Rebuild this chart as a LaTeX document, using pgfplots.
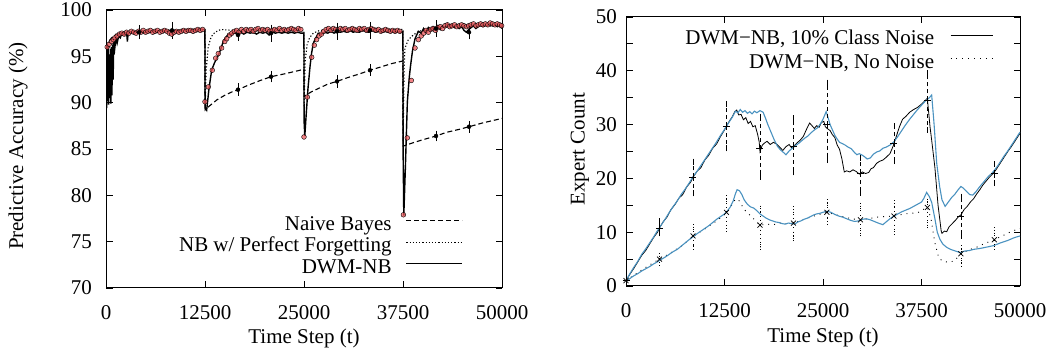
\documentclass[border=0pt]{standalone}
\usepackage{fontspec}
\setmainfont{Liberation Serif}
\usepackage{pgfplots}
\pgfplotsset{compat=1.18}
\definecolor{redd}{RGB}{236,88,92}
\definecolor{bluel}{RGB}{74,146,192}
\begin{document}
\fontsize{21}{25}\selectfont
\begin{tikzpicture}
\useasboundingbox (0pt,0pt) rectangle (1056pt,358pt);
\pgfplotsset{
  common/.style={
    scale only axis, anchor=south west,
    xmin=0, xmax=50000, scaled x ticks=false, scaled y ticks=false,
    xtick={0,12500,25000,37500,50000},
    xticklabels={0,12500,25000,37500,50000},
    tick align=inside, major tick length=6.5pt,
    every tick/.style={black, line width=0.8pt},
    axis line style={line width=1pt},
    font=\fontsize{21}{25}\selectfont,
    xticklabel style={yshift=-10pt},
    legend plot pos=right, legend cell align=right,
  }
}
% ---------------- Left plot ----------------
\begin{axis}[common,
  at={(106pt,70pt)}, width=396pt, height=278pt,
  ymin=70, ymax=100,
  ytick={70,75,...,100}, yticklabels={70,75,80,85,90,95,100},
  yticklabel style={xshift=-7pt},
  xlabel={Time Step (t)}, ylabel={Predictive Accuracy (\%)},
  xlabel style={at={(axis description cs:0.5,-0.18)}, anchor=center},
  ylabel style={at={(axis description cs:-0.222,0.51)}, anchor=center},
  legend image code/.code={\draw[#1] (0pt,5pt) -- (56pt,5pt);},
  legend style={draw=none, fill=none, at={(axis cs:45076,71.1)}, anchor=south east,
    inner sep=0pt, outer sep=0pt, row sep=3pt,
    nodes={inner sep=0pt, text height=14pt, text depth=4.5pt},
    /tikz/every odd column/.append style={column sep=14pt}},
]
% Naive Bayes
\addplot[black, line width=1.1pt, dash pattern=on 5pt off 3pt] coordinates {
(0,95.8)(300,96.5)(700,97.0)(1200,97.3)(2000,97.5)(3000,97.6)(5000,97.7)(8000,97.8)(12490,97.9)
(12510,89.2)(13000,89.6)(14000,90.3)(15000,90.8)(16000,91.2)(16667,91.4)(18000,91.9)(19500,92.4)(20833,92.8)(22500,93.1)(24000,93.4)(24990,93.6)
(25010,90.7)(26000,91.2)(27000,91.6)(28000,92.0)(29167,92.3)(30500,92.7)(32000,93.1)(33333,93.5)(34500,93.8)(36000,94.2)(37490,94.5)
(37510,85.3)(38500,85.6)(40000,86.0)(41667,86.4)(43000,86.8)(44500,87.1)(45833,87.4)(47500,87.8)(50000,88.3)};
\addlegendentry{Naive Bayes}
% Perfect forgetting
\addplot[black, line width=1.1pt, dash pattern=on 1.2pt off 2pt] coordinates {
(0,95.8)(300,96.5)(700,97.0)(1200,97.3)(2000,97.5)(3000,97.6)(5000,97.7)(8000,97.8)(12490,97.9)
(12510,89.2)(12650,93.5)(12900,96.0)(13200,96.9)(13500,97.4)(14000,97.7)(14500,97.9)(16000,97.8)(20000,97.8)(24990,97.8)
(25010,89.5)(25150,94.5)(25400,96.3)(25700,97.0)(26170,97.5)(27000,97.8)(30000,97.9)(37490,97.9)
(37510,85.5)(37650,94.0)(37750,95.9)(38170,96.8)(38800,97.3)(39500,97.7)(41000,98.0)(44000,98.2)(50000,98.3)};
\addlegendentry{NB w/ Perfect Forgetting}
% DWM-NB
\addplot[black, line width=1.4pt] coordinates {
(0,82.8)(40,96.0)(90,89.4)(150,95.6)(210,90.2)(270,96.1)(330,89.8)(400,95.2)(470,90.5)(540,95.8)(610,89.9)(680,96.0)(750,90.8)(820,96.3)(900,92.5)(980,96.6)(1100,95.8)(1250,97.0)(1400,96.4)(1600,97.2)(1800,97.0)(2000,97.5)(2300,97.3)(2600,97.6)(2700,96.6)(2800,97.5)(3100,97.6)(3400,97.5)(3700,97.7)(4000,97.6)(4400,97.7)(4800,97.5)(5200,97.7)(5600,97.6)(6000,97.7)(6400,97.6)(6800,97.8)(7200,97.7)(7600,97.7)(8000,97.8)(8400,97.7)(8800,97.8)(9200,97.7)(9600,97.8)(10000,97.8)(10400,97.7)(10800,97.8)(11200,97.8)(11600,97.8)(12000,97.9)(12490,97.9)
(12510,89.5)(12710,89.2)(13000,91.5)(13340,93.5)(13700,94.3)(14180,95.1)(14500,95.8)(14810,96.6)(15100,97.0)(15440,97.4)(15800,97.3)(16200,97.6)(16600,97.3)(17000,97.6)(17400,97.4)(17800,97.6)(18200,97.5)(18600,97.6)(19000,97.4)(19400,97.6)(19800,97.5)(20200,97.6)(20600,97.3)(21000,97.6)(21400,97.5)(21800,97.6)(22200,97.5)(22600,97.6)(23000,97.5)(23400,97.6)(23800,97.5)(24200,97.6)(24600,97.5)(24990,97.5)
(25010,88.0)(25100,86.4)(25300,89.0)(25500,91.5)(25760,93.9)(25950,95.3)(26170,96.4)(26500,97.0)(26800,97.5)(27200,97.4)(27600,97.6)(28000,97.5)(28400,97.7)(28800,97.5)(29200,97.7)(29600,97.6)(30000,97.7)(30400,97.6)(30800,97.8)(31200,97.6)(31600,97.7)(32000,97.6)(32400,97.8)(32800,97.7)(33200,97.6)(33600,97.8)(34000,97.6)(34400,97.7)(34800,97.6)(35200,97.7)(35600,97.6)(36000,97.7)(36400,97.6)(36800,97.7)(37200,97.6)(37490,97.7)
(37510,85.0)(37600,77.8)(37800,83.0)(38050,90.1)(38300,92.8)(38470,94.1)(38700,95.6)(39020,96.9)(39440,97.7)(39800,97.5)(40100,98.0)(40400,97.6)(40700,98.1)(41000,97.8)(41300,98.2)(41600,97.9)(41900,98.3)(42200,97.9)(42500,98.3)(42800,98.1)(43100,98.5)(43400,98.2)(43700,98.4)(44000,98.1)(44300,98.3)(44600,98.0)(44900,98.2)(45200,97.8)(45500,97.6)(45800,97.9)(46100,98.1)(46400,98.3)(46700,98.0)(47000,98.2)(47300,98.4)(47600,98.2)(47900,98.4)(48200,98.3)(48500,98.5)(48800,98.3)(49100,98.4)(49400,98.2)(49700,98.4)(50000,98.0)};
\addlegendentry{DWM-NB}
% red dots
\addplot[forget plot, only marks, mark=*, mark size=2.4pt, mark options={draw=none, fill=redd, fill opacity=0.75}] coordinates {
(150,96.0)(400,96.3)(700,96.6)(925,96.8)(1130,97.0)(1400,97.2)(1700,97.4)(2000,97.5)(2300,97.4)(2600,97.6)(2900,97.5)(3200,97.7)(3500,97.6)(3800,97.5)(4100,97.7)(4400,97.6)(4700,97.8)(5000,97.6)(5300,97.7)(5600,97.8)(5900,97.6)(6200,97.7)(6500,97.8)(6800,97.6)(7100,97.7)(7400,97.8)(7700,97.7)(8000,97.5)(8300,97.4)(8600,97.6)(8900,97.7)(9200,97.6)(9500,97.7)(9800,97.8)(10100,97.7)(10400,97.8)(10700,97.8)(11000,97.7)(11300,97.8)(11600,97.9)(11900,97.8)(12200,97.9)
(12500,90.1)(12920,91.7)(13420,93.5)(13850,94.8)(14180,95.3)(14600,95.9)(15000,96.6)(15240,96.9)(15600,97.3)(15900,97.5)(16200,97.7)(16500,97.8)(16800,97.6)(17100,97.9)(17400,97.7)(17700,97.9)(18000,97.8)(18300,97.9)(18600,97.7)(18900,97.9)(19200,98.0)(19500,97.8)(19800,97.9)(20100,97.8)(20400,97.9)(20700,97.7)(21000,97.8)(21300,97.9)(21600,97.8)(21900,98.0)(22200,97.8)(22500,97.9)(22800,97.8)(23100,97.9)(23400,98.0)(23700,97.9)(24000,97.8)(24300,98.0)(24600,97.9)
(25000,86.3)(25420,90.6)(25970,94.9)(26300,96.2)(26590,96.8)(26900,97.2)(27200,97.4)(27500,97.7)(27800,97.9)(28100,98.0)(28400,97.8)(28700,98.0)(29000,97.9)(29300,97.8)(29600,98.0)(29900,97.9)(30200,98.0)(30500,97.8)(30800,97.9)(31100,98.0)(31400,97.9)(31700,97.8)(32000,98.0)(32300,97.9)(32600,98.0)(32900,97.8)(33200,97.9)(33500,98.0)(33800,97.9)(34100,97.8)(34400,97.9)(34700,97.7)(35000,97.8)(35300,97.9)(35600,97.8)(35900,97.7)(36200,97.8)(36500,97.7)(36800,97.8)(37100,97.7)
(37550,77.9)(38040,86.2)(38550,92.4)(39015,95.9)(39440,96.8)(39800,97.2)(40100,97.5)(40400,97.8)(40700,97.6)(41000,97.9)(41300,98.0)(41600,97.8)(41900,98.1)(42200,98.2)(42500,98.0)(42800,98.3)(43100,98.4)(43400,98.2)(43700,98.3)(44000,98.4)(44300,98.2)(44600,98.3)(44900,98.4)(45200,98.3)(45500,98.2)(45800,98.3)(46100,98.4)(46400,98.5)(46700,98.3)(47000,98.4)(47300,98.5)(47600,98.4)(47900,98.5)(48200,98.4)(48500,98.6)(48800,98.5)(49100,98.4)(49400,98.5)(49700,98.4)(49950,98.3)};
% error bars
\addplot[forget plot, black, only marks, mark=none, error bars/.cd, y dir=both, y explicit,
  error bar style={black, line width=0.7pt, solid}, error mark options={black, mark size=3pt, line width=0.7pt}] coordinates {
(4167,97.6) +- (0,0.45) (8333,97.8) +- (0,0.6) (16667,97.3) +- (0,0.3) (20833,97.5) +- (0,0.6)
(29167,97.7) +- (0,0.6) (33333,97.8) +- (0,0.6) (41667,98.0) +- (0,0.55) (45833,97.6) +- (0,0.45)
(16667,91.4) +- (0,0.35) (20833,92.8) +- (0,0.3) (29167,92.3) +- (0,0.35) (33333,93.5) +- (0,0.3)
(41667,86.4) +- (0,0.25) (45833,87.4) +- (0,0.3)};
\end{axis}
% ---------------- Right plot ----------------
\begin{axis}[common,
  at={(626pt,72pt)}, width=394pt, height=269pt,
  ymin=0, ymax=50,
  ytick={0,5,...,50}, yticklabels={0,,10,,20,,30,,40,,50},
  yticklabel style={xshift=-2pt},
  xlabel={Time Step (t)}, ylabel={Expert Count},
  xlabel style={at={(axis description cs:0.5,-0.19)}, anchor=center},
  ylabel style={at={(axis description cs:-0.117,0.509)}, anchor=center},
  legend image code/.code={\draw[#1] (0pt,5pt) -- (42pt,5pt);},
  legend style={draw=none, fill=none, at={(axis cs:46574,39.6)}, anchor=south east,
    inner sep=0pt, outer sep=0pt, row sep=5pt,
    nodes={inner sep=0pt, text height=14pt, text depth=4.5pt},
    /tikz/every odd column/.append style={column sep=16pt}},
]
\addplot[black, line width=0.8pt] coordinates {
(0,1.0)(500,2.2)(1000,3.3)(1500,4.5)(2000,5.7)(2500,6.6)(3000,7.8)(3500,9.0)(4000,10.0)(4250,10.8)(4700,11.9)(5200,12.8)(5700,14.2)(6200,15.1)(6700,16.3)(7200,17.0)(7700,18.4)(8200,19.3)(8500,20.2)(9000,21.3)(9500,22.0)(10000,23.4)(10500,24.3)(11000,25.6)(11500,26.4)(12000,27.8)(12500,29.0)(12750,29.7)(13100,30.6)(13500,31.5)(13800,32.4)(14050,32.7)(14300,31.8)(14600,31.9)(14900,30.9)(15200,31.3)(15500,30.2)(15800,30.6)(16100,29.6)(16400,29.8)(16700,28.2)(16900,26.8)(17000,25.0)(17300,26.2)(17600,26.6)(17900,26.9)(18300,26.3)(18700,26.7)(19100,26.4)(19500,25.8)(19900,25.2)(20300,25.9)(20700,26.3)(21000,25.7)(21300,26.0)(21700,26.6)(22100,27.1)(22500,27.8)(22900,29.1)(23300,30.3)(23600,29.8)(23900,29.3)(24200,29.8)(24500,29.5)(24800,30.4)(25100,30.6)(25300,29.6)(25600,29.2)(25900,28.9)(26200,28.1)(26500,27.6)(26800,26.2)(27100,25.4)(27400,23.6)(27700,21.2)(28000,21.4)(28400,21.2)(28800,21.6)(29200,21.3)(29600,20.8)(30000,21.2)(30400,20.9)(30800,21.1)(31100,21.8)(31400,22.0)(31800,22.8)(32200,23.2)(32600,23.4)(33000,23.9)(33500,24.6)(33900,26.0)(34300,27.8)(34700,29.6)(35100,31.0)(35500,31.5)(36000,32.3)(36500,32.8)(37000,33.2)(37500,33.8)(38000,34.5)(38240,34.9)(38580,29.6)(38790,27.1)(39200,22.0)(39600,15.0)(40000,10.2)(40100,9.8)(40400,10.2)(40700,10.1)(41000,11.0)(41400,11.6)(41800,12.2)(42200,12.9)(42500,13.2)(42900,14.2)(43300,14.8)(43700,15.6)(44100,16.2)(44500,17.1)(44900,17.9)(45300,18.8)(45700,19.5)(46100,20.2)(46500,20.8)(46900,21.5)(47300,22.4)(47700,23.3)(48100,24.2)(48500,25.1)(48900,25.9)(49300,26.8)(49700,27.7)(50000,28.4)};
\addlegendentry{DWM−NB, 10\% Class Noise}
\addplot[black, line width=0.9pt, dash pattern=on 0.9pt off 5pt] coordinates {
(0,1.0)(1000,2.0)(2000,3.0)(3000,3.9)(4250,5.0)(5500,6.0)(7000,7.4)(8500,9.2)(10000,10.6)(11500,12.1)(12750,13.6)(13400,15.0)(13900,16.2)(14400,15.8)(15000,14.2)(15700,13.2)(16400,12.2)(17000,11.3)(17800,11.5)(18700,11.4)(19600,11.7)(20400,11.6)(21250,11.7)(22200,12.2)(23200,12.7)(24300,13.2)(25500,13.7)(26500,13.3)(27500,12.9)(28600,12.5)(29750,12.3)(30800,12.5)(31800,12.8)(32800,12.9)(34000,13.0)(35000,13.3)(36000,13.5)(37000,13.6)(37700,14.2)(38250,14.6)(38700,12.5)(39200,8.0)(39700,5.2)(40200,4.6)(41000,4.4)(41700,4.7)(42500,6.0)(43500,6.7)(44500,7.2)(45500,7.9)(46750,8.6)(48000,9.5)(49000,10.2)(50000,10.7)};
\addlegendentry{DWM−NB, No Noise}
% blue upper
\addplot[forget plot, bluel, line width=1.1pt] coordinates {
(0,1.0)(500,2.3)(1000,3.5)(1500,4.6)(2000,5.9)(2500,6.9)(3000,8.0)(3500,9.1)(4000,10.3)(4500,11.4)(5000,12.5)(5500,13.7)(6000,14.8)(6500,15.8)(7000,17.0)(7500,18.0)(8000,19.1)(8500,20.3)(9000,21.3)(9500,22.4)(10000,23.5)(10500,24.6)(11000,25.7)(11500,26.8)(12000,28.0)(12500,29.1)(13000,30.3)(13500,31.4)(13900,32.5)(14200,32.2)(14500,32.8)(14800,32.3)(15100,32.6)(15400,32.1)(15700,32.4)(16000,32.0)(16300,32.5)(16600,32.2)(17000,32.6)(17400,32.3)(17700,31.2)(18000,30.0)(18400,28.6)(18800,27.2)(19200,26.0)(19600,25.3)(20000,24.8)(20300,24.4)(20700,25.1)(21100,25.6)(21500,26.1)(21900,26.5)(22300,27.0)(22700,27.5)(23100,27.9)(23500,28.5)(23900,29.0)(24300,29.4)(24700,30.2)(25000,31.0)(25400,32.4)(25600,31.5)(25900,30.0)(26200,29.0)(26500,28.0)(26800,27.3)(27100,26.7)(27400,26.5)(27800,26.2)(28200,25.8)(28600,25.5)(29000,24.8)(29300,24.4)(29600,24.6)(30000,24.3)(30300,24.0)(30600,23.6)(31000,23.8)(31400,24.5)(31800,24.9)(32200,25.1)(32600,25.6)(33000,25.8)(33500,26.2)(34000,26.8)(34500,27.8)(35000,28.9)(35500,30.0)(36000,31.0)(36500,31.9)(37000,32.8)(37500,33.6)(38000,34.4)(38500,35.0)(38790,35.5)(39100,30.0)(39430,22.8)(39800,18.5)(40100,16.0)(40500,14.8)(40900,15.6)(41300,16.4)(41700,17.0)(42100,17.8)(42500,18.5)(42800,18.2)(43200,17.6)(43600,17.0)(44000,16.9)(44400,17.5)(44800,18.3)(45200,19.0)(45600,19.7)(46000,20.4)(46400,20.9)(46800,21.6)(47200,22.4)(47600,23.3)(48000,24.2)(48400,25.0)(48800,25.9)(49200,26.8)(49600,27.7)(50000,28.6)};
% blue lower
\addplot[forget plot, bluel, line width=1.1pt] coordinates {
(0,0.8)(500,1.4)(1000,1.9)(1500,2.3)(2000,2.8)(2500,3.2)(3000,3.6)(3500,4.1)(4000,4.5)(4300,4.8)(5000,5.4)(5500,5.9)(6000,6.4)(6500,6.8)(7000,7.4)(7500,8.0)(8000,8.6)(8550,9.2)(9000,9.7)(9500,10.2)(10000,10.7)(10500,11.2)(11000,11.8)(11500,12.4)(12000,12.9)(12500,13.4)(12780,13.8)(13200,14.6)(13600,15.8)(13900,17.2)(14100,17.9)(14400,17.7)(14700,17.0)(15000,16.0)(15400,15.2)(15800,14.7)(16200,14.5)(16600,14.0)(17000,13.4)(17400,13.0)(17800,12.6)(18200,12.3)(18600,12.1)(19000,11.9)(19400,11.8)(19800,11.6)(20200,11.5)(20600,11.7)(21000,11.6)(21400,11.5)(21800,11.9)(22200,12.1)(22600,12.4)(23000,12.6)(23400,12.9)(23800,13.2)(24200,13.4)(24600,13.5)(25000,13.7)(25500,13.9)(26000,13.7)(26500,13.3)(27000,13.0)(27500,12.8)(28000,12.5)(28500,12.2)(29000,12.0)(29500,12.1)(30000,12.4)(30500,12.5)(31000,12.3)(31500,12.0)(32000,11.7)(32600,11.4)(33000,11.9)(33500,12.5)(34000,13.0)(34500,13.4)(35000,13.8)(35500,14.1)(36000,14.4)(36500,14.8)(37000,15.2)(37500,15.6)(37800,16.3)(38150,17.4)(38500,16.6)(38800,15.5)(39200,12.5)(39500,10.0)(39830,8.7)(40200,7.8)(40680,7.2)(41200,6.8)(41800,6.5)(42400,6.2)(43000,6.5)(43600,6.6)(44100,6.8)(45000,7.0)(46000,7.3)(46630,7.5)(47500,8.0)(48500,8.5)(49300,9.0)(50000,9.3)};
% error bars upper (noise)
\addplot[forget plot, black, only marks, mark=+, mark size=3.5pt, mark options={solid, line width=0.7pt},
  error bars/.cd, y dir=both, y explicit,
  error bar style={black, line width=0.7pt, dash pattern=on 4pt off 3pt},
  error mark options={black, solid, mark size=3pt, line width=0.7pt}] coordinates {
(0,1.0) += (0,0.5) -= (0,0.5)
(4250,10.8) += (0,1.2) -= (0,1.0)
(8500,20.2) += (0,2.9) -= (0,3.0)
(12750,29.7) += (0,4.1) -= (0,4.1)
(17000,25.5) += (0,6.0) -= (0,5.2)
(21250,26.0) += (0,5.2) -= (0,4.9)
(25500,30.0) += (0,7.8) -= (0,6.6)
(29750,21.0) += (0,2.7) -= (0,3.7)
(34000,26.5) += (0,3.2) -= (0,3.3)
(38250,34.5) += (0,5.1) -= (0,5.5)
(42500,13.0) += (0,3.6) -= (0,3.7)
(46750,20.9) += (0,1.7) -= (0,1.8)};
% error bars lower (no noise)
\addplot[forget plot, black, only marks, mark=x, mark size=3.5pt, mark options={solid, line width=0.7pt},
  error bars/.cd, y dir=both, y explicit,
  error bar style={black, line width=0.8pt, dash pattern=on 0.8pt off 3.5pt},
  error mark options={black, dash pattern=on 0.8pt off 2pt, mark size=3pt, line width=0.8pt}] coordinates {
(0,1.0) += (0,0.3) -= (0,0.3)
(4250,5.0) += (0,0.6) -= (0,0.6)
(8500,9.3) += (0,1.7) -= (0,2.0)
(12750,13.7) += (0,2.6) -= (0,3.0)
(17000,11.3) += (0,3.1) -= (0,4.0)
(21250,11.7) += (0,2.6) -= (0,2.8)
(25500,13.7) += (0,1.9) -= (0,1.7)
(29750,12.3) += (0,2.6) -= (0,2.5)
(34000,13.0) += (0,2.4) -= (0,2.9)
(38250,14.6) += (0,1.1) -= (0,3.3)
(42500,6.0) += (0,1.0) -= (0,1.8)
(46750,8.6) += (0,1.8) -= (0,1.3)};
\end{axis}
\end{tikzpicture}
\end{document}
